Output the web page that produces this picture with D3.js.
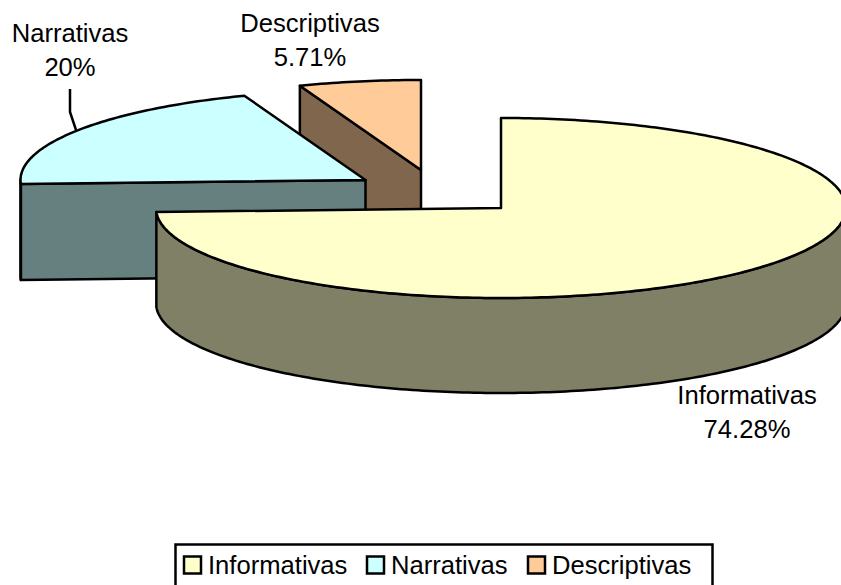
<!DOCTYPE html>
<html>
<head>
<meta charset="utf-8">
<script src="https://cdn.jsdelivr.net/npm/d3@7"></script>
<style>
    html, body { margin: 0; padding: 0; background: #fff; }
    svg { display: block; }
    text { font-family: "Liberation Sans", Arial, sans-serif; font-size: 25.6px; fill: #000; }
</style>
</head>
<body>
<div id="chart"></div>
<script>
// Data
const categories = ["Informativas", "Narrativas", "Descriptivas"];
const values = [74.28, 20, 5.71];
const valueLabels = ["74.28%", "20%", "5.71%"];
const topColors = ["#ffffcc", "#ccffff", "#ffcc99"];
const sideColors = ["#808066", "#668080", "#80664d"];

// Layout of the exploded 3d pie
const width = 841, height = 585;
const rx = 345, ry = 90;
const depths = [95, 96, 96];
const centers = [[501, 208], [365.5, 180], [421, 170]];
const labelPos = [[747, 404, 438], [70, 42, 76], [310, 32, 66]];
const legendX = [184, 367, 528];
const legendTextX = [208, 391, 552];

const svg = d3.select("#chart").append("svg")
    .attr("width", width)
    .attr("height", height);

const slices = d3.pie().sort(null).startAngle(0).endAngle(2 * Math.PI)(values);
const line = d3.line();

// angle 0 is 12 o'clock, going clockwise
function rim(i, a, drop = 0){
    return [centers[i][0] + rx * Math.sin(a), centers[i][1] - ry * Math.cos(a) + drop];
}

function rimPoints(i, a0, a1, drop = 0){
    const steps = Math.max(2, Math.ceil((a1 - a0) * 60));
    return d3.range(steps + 1).map(s => rim(i, a0 + (a1 - a0) * s / steps, drop));
}

function drawPath(points, fill){
    svg.append("path")
        .attr("d", line(points) + "Z")
        .attr("fill", fill)
        .attr("stroke", "#000")
        .attr("stroke-width", 2.5)
        .attr("stroke-linejoin", "round");
}

// back to front so the big slice covers the others
[2, 1, 0].forEach(i => {
    const a0 = slices[i].startAngle, a1 = slices[i].endAngle;
    const depth = depths[i];
    const apex = centers[i];
    const apexLow = [apex[0], apex[1] + depth];

    // radial walls
    if(Math.sin(a0) < -1e-6){
        drawPath([apex, rim(i, a0), rim(i, a0, depth), apexLow], sideColors[i]);
    }
    if(Math.sin(a1) > 1e-6){
        drawPath([apex, rim(i, a1), rim(i, a1, depth), apexLow], sideColors[i]);
    }

    // outer wall, only the front half shows
    const w0 = Math.max(a0, Math.PI / 2), w1 = Math.min(a1, 3 * Math.PI / 2);
    if(w1 > w0){
        drawPath(rimPoints(i, w0, w1).concat(rimPoints(i, w0, w1, depth).reverse()), sideColors[i]);
    }

    // top
    drawPath([apex].concat(rimPoints(i, a0, a1)), topColors[i]);
});

// Leader line of Narrativas
svg.append("path")
    .attr("d", line([[70, 89], [70, 112], [76, 130]]))
    .attr("fill", "none")
    .attr("stroke", "#000")
    .attr("stroke-width", 2.5);

// Labels
categories.forEach((c, i) => {
    const [x, y1, y2] = labelPos[i];
    svg.append("text").attr("x", x).attr("y", y1).attr("text-anchor", "middle").text(c);
    svg.append("text").attr("x", x).attr("y", y2).attr("text-anchor", "middle").text(valueLabels[i]);
});

// Legend, its bottom edge falls off the picture
svg.append("rect")
    .attr("x", 175.5).attr("y", 544.5)
    .attr("width", 537).attr("height", 50)
    .attr("fill", "#fff")
    .attr("stroke", "#000")
    .attr("stroke-width", 2.5);

categories.forEach((c, i) => {
    svg.append("rect")
        .attr("x", legendX[i]).attr("y", 556.5)
        .attr("width", 17).attr("height", 17)
        .attr("fill", topColors[i])
        .attr("stroke", "#000")
        .attr("stroke-width", 2.5);
    svg.append("text").attr("x", legendTextX[i]).attr("y", 573.5).text(c);
});
</script>
</body>
</html>
